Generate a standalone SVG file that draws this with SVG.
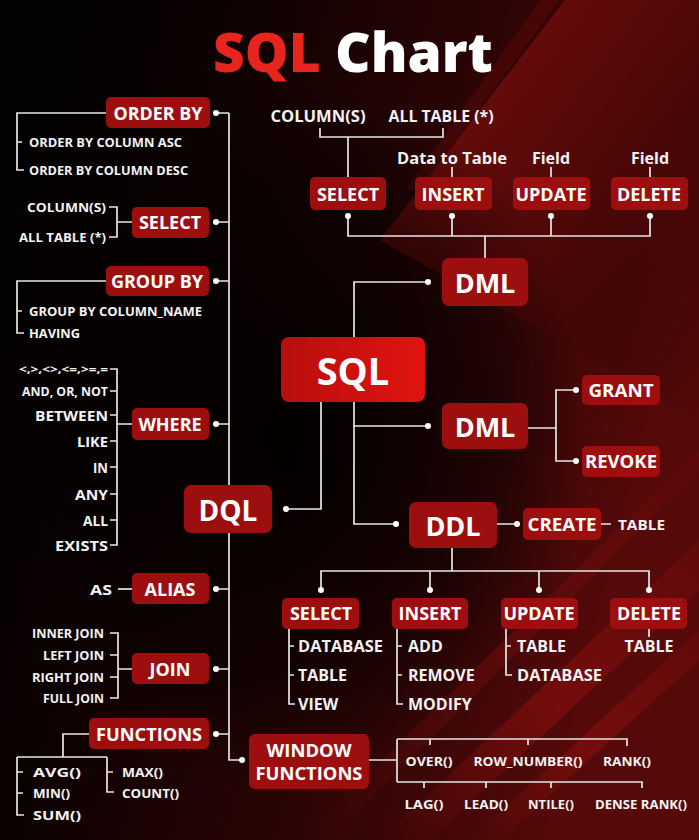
<svg xmlns="http://www.w3.org/2000/svg" width="699" height="840" viewBox="0 0 699 840">
  <defs>
    <linearGradient id="bgRed" x1="0" y1="0" x2="1" y2="0.3">
      <stop offset="0" stop-color="#000" stop-opacity="0"/>
      <stop offset="0.45" stop-color="#2a0404" stop-opacity="0.6"/>
      <stop offset="1" stop-color="#560909"/>
    </linearGradient>
    <linearGradient id="topWedge" x1="0" y1="0" x2="1" y2="1">
      <stop offset="0" stop-color="#7c0e0e"/>
      <stop offset="0.6" stop-color="#4a0707"/>
      <stop offset="1" stop-color="#2a0404" stop-opacity="0"/>
    </linearGradient>
    <radialGradient id="centerShade" cx="0.42" cy="0.52" r="0.42">
      <stop offset="0" stop-color="#000" stop-opacity="0.9"/>
      <stop offset="0.7" stop-color="#000" stop-opacity="0.45"/>
      <stop offset="1" stop-color="#000" stop-opacity="0"/>
    </radialGradient>
    <linearGradient id="streak" x1="0" y1="1" x2="1" y2="0">
      <stop offset="0" stop-color="#8a0f0f" stop-opacity="0"/>
      <stop offset="0.5" stop-color="#8a0f0f" stop-opacity="0.6"/>
      <stop offset="1" stop-color="#8a0f0f" stop-opacity="0.2"/>
    </linearGradient>
    <linearGradient id="sqlFill" x1="0" y1="0" x2="1" y2="0">
      <stop offset="0" stop-color="#b70e0e"/>
      <stop offset="1" stop-color="#e2140f"/>
    </linearGradient>
    <style>
      .box{fill:#9d0f0f}
      .t{font-family:"Open Sans","Liberation Sans",sans-serif;font-weight:700;font-size:18px;fill:#fff;text-anchor:middle;dominant-baseline:central}
      .big{font-size:27px}
      .huge{font-size:38px}
      .l{font-family:"Open Sans","Liberation Sans",sans-serif;font-weight:700;fill:#f2f2f2;dominant-baseline:central}
      .r{text-anchor:end}
      .c{text-anchor:middle}
      .ln{stroke:#e6e6e6;stroke-width:1.7;fill:none}
      .dot{fill:#fff}
    </style>
  </defs>

  <!-- background -->
  <rect width="699" height="840" fill="#030101"/>
  <rect width="699" height="840" fill="url(#bgRed)"/>
  <polygon points="565,0 699,0 699,420 380,240" fill="url(#topWedge)"/>
  <polygon points="540,0 560,0 420,190 405,190" fill="#5a0808" opacity="0.5"/>
  <rect width="699" height="840" fill="url(#centerShade)"/>
  <polygon points="380,840 430,840 699,590 699,540" fill="url(#streak)"/>
  <polygon points="470,840 500,840 699,660 699,630" fill="url(#streak)"/>
  <polygon points="300,840 330,840 699,470 699,450" fill="url(#streak)" opacity="0.6"/>

  <!-- title -->
  <text x="353" y="72" font-family="'Open Sans','Liberation Sans',sans-serif" font-weight="800" font-size="55" text-anchor="middle"><tspan fill="#e8241e">SQL</tspan><tspan fill="#ffffff"> Chart</tspan></text>

  <!-- connectors -->
  <g id="connectors">
    <path class="ln" d="M229 113 V760 H242"/>
    <path class="ln" d="M216 113 H229 M216 222 H229 M216 281 H229 M216 424 H229 M216 589 H229 M216 669 H229 M216 734 H229"/>
    <!-- ORDER BY bracket -->
    <path class="ln" d="M106 113 H17 V170 H24 M17 142 H22"/>
    <!-- SELECT bracket -->
    <path class="ln" d="M109 207 H117 V237 H109 M117 222 H132"/>
    <!-- GROUP BY bracket -->
    <path class="ln" d="M106 281 H17 V333 H24 M17 311 H22"/>
    <!-- WHERE bracket -->
    <path class="ln" d="M110 369 H117 V545 H110 M110 391 H117 M110 415 H117 M110 441 H117 M110 467 H117 M110 494 H117 M110 520 H117 M117 424 H132"/>
    <!-- ALIAS -->
    <path class="ln" d="M118 589 H132"/>
    <!-- JOIN bracket -->
    <path class="ln" d="M110 633 H118 V698 H110 M110 655 H118 M110 677 H118 M118 669 H132"/>
    <!-- FUNCTIONS tree -->
    <path class="ln" d="M89 734 H63 V757 M17 757 H107 M17 757 V815 H24 M17 772 H23 M17 793 H23 M107 757 V792 H114 M107 772 H113"/>

    <!-- SQL branches -->
    <path class="ln" d="M354 337 V282 H428"/>
    <path class="ln" d="M354 402 V524 H396 M354 426 H428"/>
    <path class="ln" d="M321 402 V509 H286"/>

    <!-- DML (top) to statements -->
    <path class="ln" d="M485 258 V236 M348 216 V236 H650 V216 M452 236 V216 M551 236 V216"/>
    <path class="ln" d="M320 128 V137 H443 V128 M348 137 V177"/>
    <path class="ln" d="M452 167 V177 M551 167 V177 M650 167 V177"/>

    <!-- DML (middle) to GRANT / REVOKE -->
    <path class="ln" d="M528 428 H556 M576 390 H556 V461 H576"/>

    <!-- DDL -->
    <path class="ln" d="M497 524 H517 M601 524 H611"/>
    <path class="ln" d="M452 548 V571 M321 590 V571 H649 V590 M430 571 V590 M539 571 V590"/>
    <path class="ln" d="M289 629 V704 H295 M289 646 H294 M289 675 H294"/>
    <path class="ln" d="M397 629 V704 H403 M397 646 H402 M397 675 H402"/>
    <path class="ln" d="M506 629 V675 H512 M506 646 H511"/>
    <path class="ln" d="M649 629 V637"/>

    <!-- WINDOW FUNCTIONS -->
    <path class="ln" d="M369 760 H397 M397 739 V782 M397 739 H627 V746 M430 739 V745 M528 739 V745 M397 782 H642 V788 M424 782 V788 M486 782 V788 M551 782 V788"/>

    <g class="dot">
      <circle cx="216" cy="113" r="3"/><circle cx="216" cy="222" r="3"/><circle cx="216" cy="281" r="3"/>
      <circle cx="216" cy="424" r="3"/><circle cx="216" cy="589" r="3"/><circle cx="216" cy="669" r="3"/>
      <circle cx="216" cy="734" r="3"/><circle cx="242" cy="760" r="3"/>
      <circle cx="428" cy="282" r="3"/><circle cx="428" cy="426" r="3"/><circle cx="396" cy="524" r="3"/>
      <circle cx="286" cy="509" r="3"/>
      <circle cx="348" cy="216" r="3"/><circle cx="452" cy="216" r="3"/><circle cx="551" cy="216" r="3"/><circle cx="650" cy="216" r="3"/>
      <circle cx="576" cy="390" r="3"/><circle cx="576" cy="461" r="3"/>
      <circle cx="517" cy="524" r="3"/>
      <circle cx="321" cy="590" r="3"/><circle cx="430" cy="590" r="3"/><circle cx="539" cy="590" r="3"/><circle cx="649" cy="590" r="3"/>
    </g>
  </g>

  <!-- left column -->
  <g id="order-by">
    <rect class="box" x="106" y="97" width="104" height="31" rx="5"/>
    <text class="t" x="158" y="113" textLength="89" lengthAdjust="spacingAndGlyphs">ORDER BY</text>
    <text class="l" x="29" y="142" font-size="11.5" textLength="153" lengthAdjust="spacingAndGlyphs">ORDER BY COLUMN ASC</text>
    <text class="l" x="29" y="170" font-size="11.5" textLength="159" lengthAdjust="spacingAndGlyphs">ORDER BY COLUMN DESC</text>
  </g>
  <g id="select-left">
    <rect class="box" x="132" y="207" width="77" height="31" rx="5"/>
    <text class="t" x="170" y="222">SELECT</text>
    <text class="l r" x="106" y="207" font-size="12" textLength="79" lengthAdjust="spacingAndGlyphs">COLUMN(S)</text>
    <text class="l r" x="106" y="237" font-size="12" textLength="87" lengthAdjust="spacingAndGlyphs">ALL TABLE (*)</text>
  </g>
  <g id="group-by">
    <rect class="box" x="106" y="266" width="103" height="30" rx="5"/>
    <text class="t" x="157" y="281" textLength="92" lengthAdjust="spacingAndGlyphs">GROUP BY</text>
    <text class="l" x="29" y="311" font-size="11.5" textLength="173" lengthAdjust="spacingAndGlyphs">GROUP BY COLUMN_NAME</text>
    <text class="l" x="29" y="333" font-size="11.5" textLength="51" lengthAdjust="spacingAndGlyphs">HAVING</text>
  </g>
  <g id="where">
    <rect class="box" x="132" y="408" width="77" height="32" rx="5"/>
    <text class="t" x="170" y="424">WHERE</text>
    <text class="l r" x="108" y="369" font-size="10.5" textLength="89" lengthAdjust="spacingAndGlyphs">&lt;,&gt;,&lt;&gt;,&lt;=,&gt;=,=</text>
    <text class="l r" x="108" y="391" font-size="12" textLength="86" lengthAdjust="spacingAndGlyphs">AND, OR, NOT</text>
    <text class="l r" x="108" y="415" font-size="14.5" textLength="73" lengthAdjust="spacingAndGlyphs">BETWEEN</text>
    <text class="l r" x="108" y="441" font-size="14.5" textLength="31" lengthAdjust="spacingAndGlyphs">LIKE</text>
    <text class="l r" x="108" y="467" font-size="14.5" textLength="15" lengthAdjust="spacingAndGlyphs">IN</text>
    <text class="l r" x="108" y="494" font-size="14.5" textLength="33" lengthAdjust="spacingAndGlyphs">ANY</text>
    <text class="l r" x="108" y="520" font-size="14.5" textLength="25" lengthAdjust="spacingAndGlyphs">ALL</text>
    <text class="l r" x="108" y="545" font-size="14.5" textLength="53" lengthAdjust="spacingAndGlyphs">EXISTS</text>
  </g>
  <g id="dql">
    <rect class="box" x="184" y="485" width="88" height="48" rx="7"/>
    <text class="t big" x="228" y="510" style="font-size:28px">DQL</text>
  </g>
  <g id="alias">
    <rect class="box" x="132" y="573" width="77" height="31" rx="5"/>
    <text class="t" x="170" y="589">ALIAS</text>
    <text class="l r" x="112" y="589" font-size="14" textLength="22" lengthAdjust="spacingAndGlyphs">AS</text>
  </g>
  <g id="join">
    <rect class="box" x="132" y="653" width="77" height="31" rx="5"/>
    <text class="t" x="170" y="669">JOIN</text>
    <text class="l r" x="104" y="633" font-size="11.5" textLength="72" lengthAdjust="spacingAndGlyphs">INNER JOIN</text>
    <text class="l r" x="104" y="655" font-size="11.5" textLength="61" lengthAdjust="spacingAndGlyphs">LEFT JOIN</text>
    <text class="l r" x="104" y="677" font-size="11.5" textLength="72" lengthAdjust="spacingAndGlyphs">RIGHT JOIN</text>
    <text class="l r" x="104" y="698" font-size="11.5" textLength="61" lengthAdjust="spacingAndGlyphs">FULL JOIN</text>
  </g>
  <g id="functions">
    <rect class="box" x="89" y="718" width="120" height="31" rx="5"/>
    <text class="t" x="149" y="734" textLength="106" lengthAdjust="spacingAndGlyphs">FUNCTIONS</text>
    <text class="l" x="33" y="772" font-size="11.5" textLength="48" lengthAdjust="spacingAndGlyphs">AVG()</text>
    <text class="l" x="33" y="793" font-size="11.5" textLength="37" lengthAdjust="spacingAndGlyphs">MIN()</text>
    <text class="l" x="33" y="815" font-size="11.5" textLength="48" lengthAdjust="spacingAndGlyphs">SUM()</text>
    <text class="l" x="122" y="772" font-size="11.5" textLength="41" lengthAdjust="spacingAndGlyphs">MAX()</text>
    <text class="l" x="122" y="793" font-size="11.5" textLength="57" lengthAdjust="spacingAndGlyphs">COUNT()</text>
  </g>

  <!-- centre -->
  <g id="sql">
    <rect x="281" y="337" width="144" height="65" rx="8" fill="url(#sqlFill)"/>
    <text class="t huge" x="353" y="370">SQL</text>
  </g>
  <g id="dml-top">
    <rect class="box" x="442" y="258" width="86" height="48" rx="7"/>
    <text class="t big" x="485" y="282">DML</text>
  </g>
  <g id="dml-mid">
    <rect class="box" x="442" y="403" width="86" height="46" rx="7"/>
    <text class="t big" x="485" y="426">DML</text>
  </g>
  <g id="ddl">
    <rect class="box" x="409" y="502" width="88" height="46" rx="7"/>
    <text class="t big" x="453" y="525">DDL</text>
  </g>

  <!-- DML statements (top) -->
  <g id="dml-labels">
    <text class="l c" x="318" y="116" font-size="16" textLength="95" lengthAdjust="spacingAndGlyphs">COLUMN(S)</text>
    <text class="l c" x="441" y="116" font-size="16" textLength="105" lengthAdjust="spacingAndGlyphs">ALL TABLE (*)</text>
    <text class="l c" x="452" y="158" font-size="16" font-weight="600" textLength="110" lengthAdjust="spacingAndGlyphs">Data to Table</text>
    <text class="l c" x="551" y="158" font-size="16" font-weight="600">Field</text>
    <text class="l c" x="650" y="158" font-size="16" font-weight="600">Field</text>
  </g>
  <g id="select-top">
    <rect class="box" x="310" y="177" width="76" height="33" rx="5"/>
    <text class="t" x="348" y="194">SELECT</text>
  </g>
  <g id="insert-top">
    <rect class="box" x="415" y="177" width="77" height="33" rx="5"/>
    <text class="t" x="453" y="194">INSERT</text>
  </g>
  <g id="update-top">
    <rect class="box" x="513" y="177" width="77" height="33" rx="5"/>
    <text class="t" x="551" y="194">UPDATE</text>
  </g>
  <g id="delete-top">
    <rect class="box" x="611" y="177" width="77" height="33" rx="5"/>
    <text class="t" x="649" y="194">DELETE</text>
  </g>

  <!-- DCL -->
  <g id="grant">
    <rect class="box" x="582" y="375" width="78" height="30" rx="5"/>
    <text class="t" x="621" y="390" textLength="65" lengthAdjust="spacingAndGlyphs">GRANT</text>
  </g>
  <g id="revoke">
    <rect class="box" x="582" y="446" width="78" height="31" rx="5"/>
    <text class="t" x="621" y="461" textLength="72" lengthAdjust="spacingAndGlyphs">REVOKE</text>
  </g>

  <!-- DDL children -->
  <g id="create">
    <rect class="box" x="523" y="508" width="78" height="32" rx="5"/>
    <text class="t" x="562" y="524" textLength="69" lengthAdjust="spacingAndGlyphs">CREATE</text>
    <text class="l" x="618" y="524" font-size="14" textLength="47" lengthAdjust="spacingAndGlyphs">TABLE</text>
  </g>
  <g id="ddl-select">
    <rect class="box" x="282" y="598" width="77" height="31" rx="5"/>
    <text class="t" x="321" y="613">SELECT</text>
    <text class="l" x="298" y="646" font-size="16" textLength="85" lengthAdjust="spacingAndGlyphs">DATABASE</text>
    <text class="l" x="298" y="675" font-size="16">TABLE</text>
    <text class="l" x="298" y="704" font-size="16">VIEW</text>
  </g>
  <g id="ddl-insert">
    <rect class="box" x="392" y="598" width="76" height="31" rx="5"/>
    <text class="t" x="430" y="613">INSERT</text>
    <text class="l" x="408" y="646" font-size="16">ADD</text>
    <text class="l" x="408" y="675" font-size="16">REMOVE</text>
    <text class="l" x="408" y="704" font-size="16">MODIFY</text>
  </g>
  <g id="ddl-update">
    <rect class="box" x="501" y="598" width="77" height="31" rx="5"/>
    <text class="t" x="539" y="613">UPDATE</text>
    <text class="l" x="517" y="646" font-size="16">TABLE</text>
    <text class="l" x="517" y="675" font-size="16" textLength="85" lengthAdjust="spacingAndGlyphs">DATABASE</text>
  </g>
  <g id="ddl-delete">
    <rect class="box" x="610" y="598" width="77" height="31" rx="5"/>
    <text class="t" x="649" y="613">DELETE</text>
    <text class="l c" x="649" y="646" font-size="16">TABLE</text>
  </g>

  <!-- window functions -->
  <g id="window-functions">
    <rect class="box" x="249" y="734" width="120" height="55" rx="6"/>
    <text class="t" x="309" y="750" textLength="85" lengthAdjust="spacingAndGlyphs">WINDOW</text>
    <text class="t" x="309" y="773" textLength="107" lengthAdjust="spacingAndGlyphs">FUNCTIONS</text>
    <text class="l c" x="429" y="761" font-size="13" textLength="47" lengthAdjust="spacingAndGlyphs">OVER()</text>
    <text class="l c" x="528" y="761" font-size="13" textLength="109" lengthAdjust="spacingAndGlyphs">ROW_NUMBER()</text>
    <text class="l c" x="627" y="761" font-size="13" textLength="48" lengthAdjust="spacingAndGlyphs">RANK()</text>
    <text class="l c" x="424" y="804" font-size="13" textLength="39" lengthAdjust="spacingAndGlyphs">LAG()</text>
    <text class="l c" x="486" y="804" font-size="13" textLength="44" lengthAdjust="spacingAndGlyphs">LEAD()</text>
    <text class="l c" x="551" y="804" font-size="13" textLength="46" lengthAdjust="spacingAndGlyphs">NTILE()</text>
    <text class="l c" x="641" y="804" font-size="13" textLength="92" lengthAdjust="spacingAndGlyphs">DENSE RANK()</text>
  </g>
</svg>
